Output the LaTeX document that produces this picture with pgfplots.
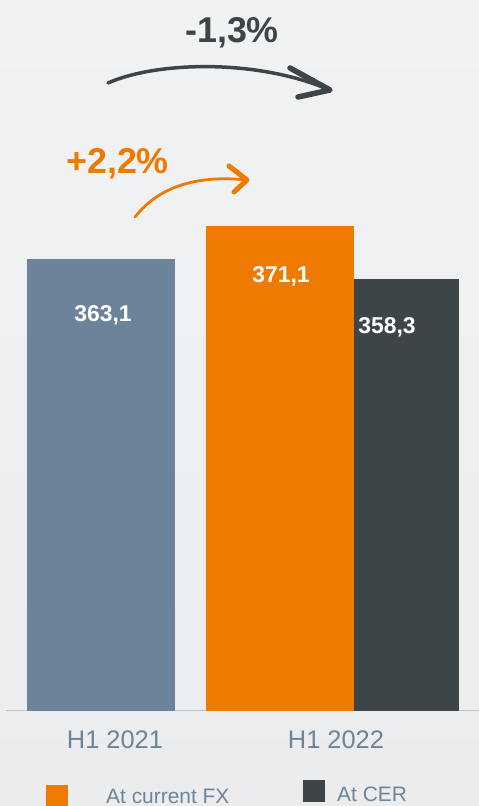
\documentclass[border=0pt]{standalone}
\usepackage{pgfplots}
\pgfplotsset{compat=1.18}
\usepackage{fontspec}
\setmainfont{Liberation Sans}
\definecolor{bgtop}{HTML}{F1F2F4}
\definecolor{bgbot}{HTML}{EBECEE}
\definecolor{barblue}{HTML}{6C8399}
\definecolor{barorange}{HTML}{EE7B00}
\definecolor{bardark}{HTML}{3D4548}
\definecolor{labelblue}{HTML}{6E8498}
\definecolor{axisgray}{HTML}{C2C3C5}

\begin{document}
\begin{tikzpicture}

% background, in pixel units (y downwards)
\begin{scope}[x=1bp, y=-1bp]
  \shade[top color=bgtop, bottom color=bgbot] (0,0) rectangle (479,806);
\end{scope}

\begin{axis}[
    at={(6bp,-710.5bp)}, anchor=south west,
    scale only axis,
    width=473bp, height=500bp,
    xmin=6, xmax=479,
    ymin=253.77, ymax=374.95,
    axis y line=none,
    axis x line*=bottom,
    x axis line style={draw=axisgray, line width=1.5bp, -},
    xtick={115,336},
    xticklabels={H1 2021, H1 2022},
    major tick length=0pt,
    xticklabel style={anchor=base, yshift=-37.5bp, inner sep=0pt,
        text=labelblue, font=\fontsize{25.5}{28}\selectfont},
    ybar,
    bar shift=0pt,
    /pgf/number format/use comma,
    /pgf/number format/fixed,
    /pgf/number format/fixed zerofill,
    /pgf/number format/precision=1,
    /pgf/number format/assume math mode=true,
]

% H1 2021
\addplot[fill=barblue, draw=none, bar width=148, bar shift=0pt,
    nodes near coords,
    every node near coord/.append style={anchor=base, yshift=-62.3bp, xshift=2bp,
        text=white, font=\fontsize{23}{26}\selectfont\bfseries}]
    coordinates {(101,363.1)};

% H1 2022 at current FX
\addplot[fill=barorange, draw=none, bar width=148, bar shift=0pt,
    nodes near coords,
    every node near coord/.append style={anchor=base, yshift=-55.9bp, xshift=1bp,
        text=white, font=\fontsize{23}{26}\selectfont\bfseries}]
    coordinates {(280,371.1)};

% H1 2022 at CER
\addplot[fill=bardark, draw=none, bar width=105, bar shift=0pt,
    nodes near coords,
    every node near coord/.append style={anchor=base, yshift=-54.1bp, xshift=-19.5bp,
        text=white, font=\fontsize{23}{26}\selectfont\bfseries}]
    coordinates {(406.5,358.3)};

\end{axis}

% annotations and legend
\begin{scope}[x=1bp, y=-1bp]
  % -1,3% arrow
  \node[anchor=base, text=bardark, inner sep=0pt,
        font=\fontsize{36}{40}\selectfont\bfseries] at (232,42) {-1,3\%};
  \draw[bardark, line width=3.5bp, line cap=round]
      (108,83) .. controls (155,62) and (255,58) .. (330,90);
  \draw[bardark, line width=5.5bp, line cap=round, line join=round]
      (290,68) -- (330,90) -- (298,97);

  % +2,2% arrow
  \node[anchor=base, text=barorange, inner sep=0pt,
        font=\fontsize{36}{40}\selectfont\bfseries] at (117.5,173) {+2,2\%};
  \draw[barorange, line width=2.8bp, line cap=round]
      (135,217) .. controls (160,185) and (200,175) .. (247,180);
  \draw[barorange, line width=5bp, line cap=round, line join=round]
      (229,166) -- (247,180) -- (234,192);

  % legend
  \fill[barorange] (46,785) rectangle (68,810);
  \node[anchor=base west, inner sep=0pt, text=labelblue,
        font=\fontsize{21}{24}\selectfont] at (106,803) {At current FX};
  \fill[bardark] (303,780) rectangle (325,802);
  \node[anchor=base west, inner sep=0pt, text=labelblue,
        font=\fontsize{21}{24}\selectfont] at (337,801) {At CER};
\end{scope}

\pgfresetboundingbox
\path[use as bounding box] (0,0) rectangle (479bp,-806bp);
\end{tikzpicture}
\end{document}
